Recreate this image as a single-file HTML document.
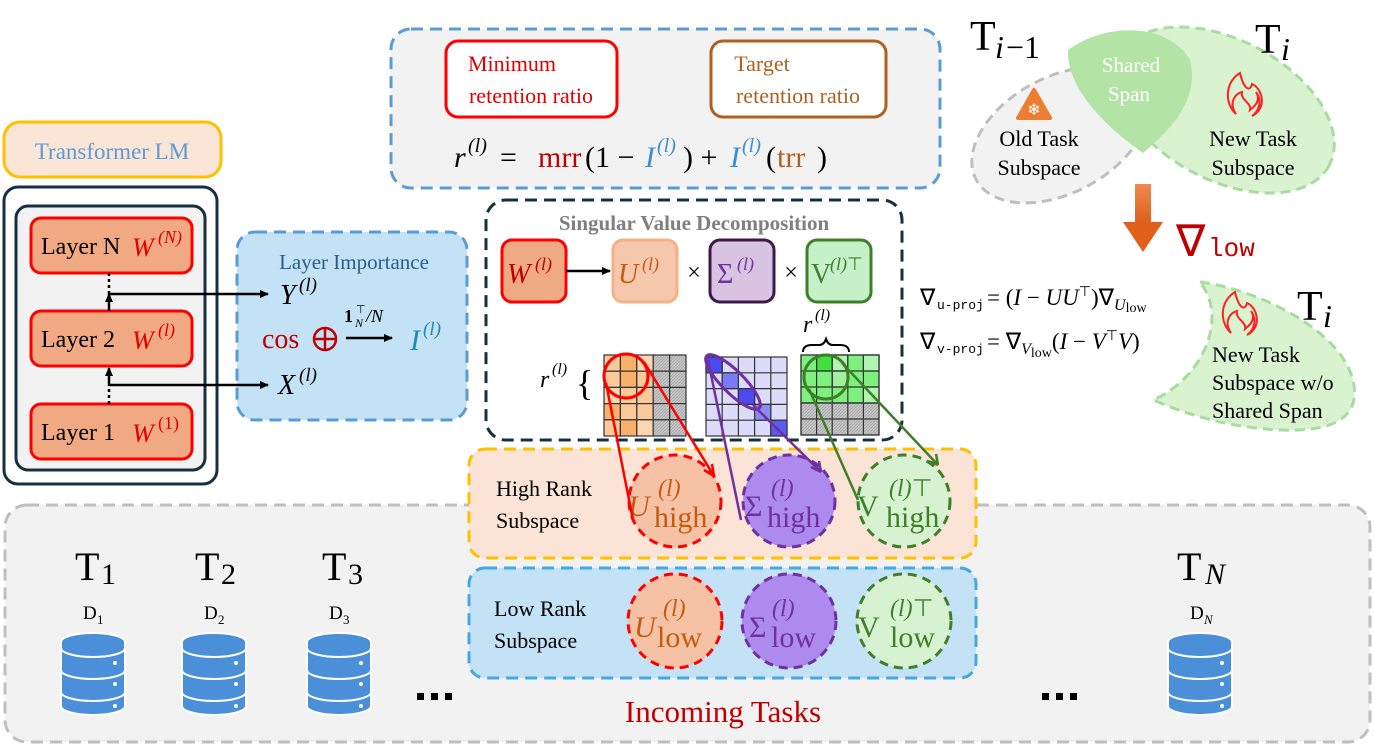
<!DOCTYPE html>
<html><head><meta charset="utf-8"><style>
html,body{margin:0;padding:0;background:#fff;}
svg{display:block;}
text,tspan{font-family:"Liberation Serif",serif;}
.m{font-style:italic;}
.mono{font-family:"Liberation Mono",monospace;}
</style></head><body>
<svg width="1374" height="754" viewBox="0 0 1374 754" xmlns="http://www.w3.org/2000/svg">
<defs>
<marker id="ah" markerWidth="10" markerHeight="10" refX="8" refY="5" orient="auto" markerUnits="userSpaceOnUse"><path d="M0,1 L9,5 L0,9 z" fill="#000"/></marker>
<pattern id="hatch" width="3" height="3" patternUnits="userSpaceOnUse"><rect width="3" height="3" fill="#c8c8c8"/><path d="M0,3 L3,0" stroke="#a8a8a8" stroke-width="1"/></pattern>
<linearGradient id="og" x1="0" y1="0" x2="0" y2="1"><stop offset="0" stop-color="#ee8a50"/><stop offset="1" stop-color="#e0601a"/></linearGradient>
</defs>

<!-- Incoming tasks box -->
<rect x="5" y="505" width="1365" height="237" rx="22" fill="#f2f2f2" stroke="#bfbfbf" stroke-width="3" stroke-dasharray="12,7"/>

<!-- Transformer LM -->
<rect x="4" y="122" width="217" height="55" rx="16" fill="#fbe5d6" stroke="#ffc000" stroke-width="3"/>
<text x="112" y="159" font-size="23" fill="#5b9bd5" text-anchor="middle">Transformer LM</text>

<rect x="4" y="187" width="213" height="297" rx="14" fill="#fff" stroke="#17303f" stroke-width="3"/>
<rect x="16" y="206" width="189" height="264" rx="12" fill="#f2f2f2" stroke="#17303f" stroke-width="3"/>
<rect x="31" y="218" width="161" height="55" rx="10" fill="#f0a982" stroke="#ff0000" stroke-width="3"/>
<rect x="31" y="311" width="161" height="55" rx="10" fill="#f0a982" stroke="#ff0000" stroke-width="3"/>
<rect x="31" y="404" width="161" height="55" rx="10" fill="#f0a982" stroke="#ff0000" stroke-width="3"/>
<text x="41" y="254" font-size="24" fill="#000">Layer N</text><text x="132" y="256" font-size="26" class="m" fill="#e00000">W</text><text x="158" y="243" font-size="18" class="m" fill="#e00000">(N)</text>
<text x="41" y="347" font-size="24" fill="#000">Layer 2</text><text x="132" y="349" font-size="26" class="m" fill="#e00000">W</text><text x="158" y="336" font-size="18" class="m" fill="#e00000">(l)</text>
<text x="41" y="440" font-size="24" fill="#000">Layer 1</text><text x="132" y="442" font-size="26" class="m" fill="#e00000">W</text><text x="158" y="429" font-size="18" fill="#e00000">(1)</text>

<!-- Layer importance -->
<rect x="237" y="232" width="230" height="188" rx="18" fill="#c3e2f5" stroke="#5b9bd5" stroke-width="3" stroke-dasharray="12,7"/>
<text x="354" y="269" font-size="21" fill="#2e5c8a" text-anchor="middle">Layer Importance</text>
<line x1="109" y1="273" x2="109" y2="297" stroke="#000" stroke-width="2.5" stroke-dasharray="3,3"/>
<line x1="109" y1="311" x2="109" y2="294" stroke="#000" stroke-width="2.5" marker-end="url(#ah)"/>
<line x1="109" y1="404" x2="109" y2="385" stroke="#000" stroke-width="2.5" stroke-dasharray="3,3"/>
<line x1="109" y1="385" x2="109" y2="368" stroke="#000" stroke-width="2.5" marker-end="url(#ah)"/>
<polyline points="109,294 268,294" fill="none" stroke="#000" stroke-width="2.5" marker-end="url(#ah)"/>
<polyline points="109,385 268,385" fill="none" stroke="#000" stroke-width="2.5" marker-end="url(#ah)"/>
<text x="280" y="304" font-size="28" class="m">Y</text><text x="299" y="291" font-size="19" class="m">(l)</text>
<text x="262" y="348" font-size="28" fill="#c00000">cos</text>
<circle cx="325" cy="339" r="11" fill="none" stroke="#c00000" stroke-width="2.5"/><line x1="314" y1="339" x2="336" y2="339" stroke="#c00000" stroke-width="2.5"/><line x1="325" y1="328" x2="325" y2="350" stroke="#c00000" stroke-width="2.5"/>
<text x="344" y="322" font-size="18" font-weight="bold">1</text><text x="355" y="327" font-size="12" class="m">N</text><text x="356" y="313" font-size="11">⊤</text><text x="366" y="322" font-size="18" class="m">/N</text>
<line x1="346" y1="338" x2="392" y2="338" stroke="#000" stroke-width="2.5" marker-end="url(#ah)"/>
<text x="410" y="350" font-size="30" class="m" fill="#1f8bb5">I</text><text x="423" y="335" font-size="19" class="m" fill="#1f8bb5">(l)</text>
<text x="278" y="394" font-size="28" class="m">X</text><text x="299" y="381" font-size="19" class="m">(l)</text>

<!-- Top retention box -->
<rect x="391" y="29" width="549" height="159" rx="20" fill="#f2f2f2" stroke="#5b9bd5" stroke-width="3" stroke-dasharray="12,7"/>
<rect x="446" y="41" width="171" height="76" rx="12" fill="#fff" stroke="#ff0000" stroke-width="3"/>
<text x="512" y="71" font-size="22" fill="#e00000" text-anchor="middle">Minimum</text>
<text x="531" y="103" font-size="22" fill="#e00000" text-anchor="middle">retention ratio</text>
<rect x="711" y="41" width="175" height="76" rx="12" fill="#fff" stroke="#b0601e" stroke-width="3"/>
<text x="762" y="71" font-size="22" fill="#b0601e" text-anchor="middle">Target</text>
<text x="798" y="103" font-size="22" fill="#b0601e" text-anchor="middle">retention ratio</text>
<text x="454" y="167" font-size="30" class="m">r</text><text x="468" y="152" font-size="20" class="m">(l)</text>
<text x="500" y="167" font-size="30">=</text>
<text x="538" y="167" font-size="30" fill="#c00000">mrr</text>
<text x="585" y="167" font-size="30">(1 −</text>
<text x="645" y="167" font-size="30" class="m" fill="#3a8fd0">I</text><text x="657" y="152" font-size="20" class="m" fill="#3a8fd0">(l)</text>
<text x="683" y="167" font-size="30">) +</text>
<text x="730" y="167" font-size="30" class="m" fill="#3a8fd0">I</text><text x="742" y="152" font-size="20" class="m" fill="#3a8fd0">(l)</text>
<text x="766" y="167" font-size="30">(</text><text x="777" y="167" font-size="30" fill="#b0601e">trr</text><text x="817" y="167" font-size="30">)</text>

<!-- SVD box -->
<rect x="486" y="200" width="416" height="240" rx="20" fill="#fff" stroke="#17303f" stroke-width="3" stroke-dasharray="12,7"/>
<text x="694" y="230" font-size="21" font-weight="bold" fill="#7f7f7f" text-anchor="middle">Singular Value Decomposition</text>
<rect x="502" y="240" width="64" height="62" rx="10" fill="#efa983" stroke="#ff0000" stroke-width="3"/>
<text x="507" y="283" font-size="28" class="m" fill="#c00000">W</text><text x="535" y="270" font-size="18" class="m" fill="#c00000">(l)</text>
<line x1="566" y1="271" x2="610" y2="271" stroke="#000" stroke-width="2.5" marker-end="url(#ah)"/>
<rect x="613" y="240" width="64" height="62" rx="10" fill="#f5c8ad" stroke="#f4b183" stroke-width="3"/>
<text x="618" y="283" font-size="28" class="m" fill="#c55a11">U</text><text x="642" y="270" font-size="18" class="m" fill="#c55a11">(l)</text>
<text x="694" y="280" font-size="24" text-anchor="middle">×</text>
<rect x="710" y="240" width="64" height="62" rx="10" fill="#d9c3e2" stroke="#3b1a4a" stroke-width="3"/>
<text x="717" y="283" font-size="28" fill="#7030a0">Σ</text><text x="737" y="270" font-size="18" class="m" fill="#7030a0">(l)</text>
<text x="791" y="280" font-size="24" text-anchor="middle">×</text>
<rect x="807" y="240" width="64" height="62" rx="10" fill="#c5f0c8" stroke="#3f7f2a" stroke-width="3"/>
<text x="811" y="283" font-size="28" fill="#3f7f2a">V</text><text x="830" y="270" font-size="18" fill="#3f7f2a"><tspan class="m">(l)</tspan>⊤</text>

<text x="540" y="387" font-size="24" class="m">r</text><text x="552" y="374" font-size="16" class="m">(l)</text>
<text x="576" y="395" font-size="36">{</text>
<text x="803" y="332" font-size="24" class="m">r</text><text x="815" y="320" font-size="16" class="m">(l)</text>
<path d="M803,352 q0,-7 9,-7 h7 q5,0 7,-6 q2,6 7,6 h7 q9,0 9,7" fill="none" stroke="#000" stroke-width="2"/>

<g stroke="#333" stroke-width="1.2">
<rect x="604" y="355" width="16.4" height="16.2" fill="#fbc99a"/><rect x="620.4" y="355" width="16.4" height="16.2" fill="#f9b06a"/><rect x="636.8" y="355" width="16.4" height="16.2" fill="#fcd7b0"/><rect x="653.2" y="355" width="16.4" height="16.2" fill="url(#hatch)"/><rect x="669.6" y="355" width="16.4" height="16.2" fill="url(#hatch)"/>
<rect x="604" y="371.2" width="16.4" height="16.2" fill="#fbc99a"/><rect x="620.4" y="371.2" width="16.4" height="16.2" fill="#f9b06a"/><rect x="636.8" y="371.2" width="16.4" height="16.2" fill="#fbc99a"/><rect x="653.2" y="371.2" width="16.4" height="16.2" fill="url(#hatch)"/><rect x="669.6" y="371.2" width="16.4" height="16.2" fill="url(#hatch)"/>
<rect x="604" y="387.4" width="16.4" height="16.2" fill="#fcd7b0"/><rect x="620.4" y="387.4" width="16.4" height="16.2" fill="#fbc99a"/><rect x="636.8" y="387.4" width="16.4" height="16.2" fill="#fbc99a"/><rect x="653.2" y="387.4" width="16.4" height="16.2" fill="url(#hatch)"/><rect x="669.6" y="387.4" width="16.4" height="16.2" fill="url(#hatch)"/>
<rect x="604" y="403.6" width="16.4" height="16.2" fill="#f9b06a"/><rect x="620.4" y="403.6" width="16.4" height="16.2" fill="#fbc99a"/><rect x="636.8" y="403.6" width="16.4" height="16.2" fill="#fbc99a"/><rect x="653.2" y="403.6" width="16.4" height="16.2" fill="url(#hatch)"/><rect x="669.6" y="403.6" width="16.4" height="16.2" fill="url(#hatch)"/>
<rect x="604" y="419.8" width="16.4" height="16.2" fill="#fbc99a"/><rect x="620.4" y="419.8" width="16.4" height="16.2" fill="#f9b06a"/><rect x="636.8" y="419.8" width="16.4" height="16.2" fill="#fcd7b0"/><rect x="653.2" y="419.8" width="16.4" height="16.2" fill="url(#hatch)"/><rect x="669.6" y="419.8" width="16.4" height="16.2" fill="url(#hatch)"/>
<rect x="706" y="357" width="81" height="79" fill="#dcdcfa"/>
<path d="M722.2,357 V436 M738.4,357 V436 M754.6,357 V436 M770.8,357 V436 M706,372.8 H787 M706,388.6 H787 M706,404.4 H787 M706,420.2 H787" fill="none"/>
<rect x="706" y="357" width="16.2" height="15.8" fill="#4a4af0"/><rect x="722.2" y="372.8" width="16.2" height="15.8" fill="#7a7af5"/><rect x="738.4" y="388.6" width="16.2" height="15.8" fill="#4a4af0"/><rect x="754.6" y="404.4" width="16.2" height="15.8" fill="#8a8af5"/><rect x="770.8" y="420.2" width="16.2" height="15.8" fill="#5a5af2"/>
<rect x="801" y="355" width="78" height="48" fill="#7df07d"/>
<rect x="801" y="403" width="78" height="32" fill="url(#hatch)"/>
<rect x="816.6" y="355" width="15.6" height="16" fill="#40e040"/><rect x="832.2" y="355" width="15.6" height="16" fill="#b0f5b0"/><rect x="863.4" y="355" width="15.6" height="16" fill="#b0f5b0"/><rect x="832.2" y="371" width="15.6" height="16" fill="#a0f0a0"/><rect x="863.4" y="387" width="15.6" height="16" fill="#b0f5b0"/>
<path d="M816.6,355 V435 M832.2,355 V435 M847.8,355 V435 M863.4,355 V435 M801,371 H879 M801,387 H879 M801,403 H879 M801,419 H879" fill="none"/>
<rect x="801" y="355" width="78" height="80" fill="none"/>
</g>

<!-- High rank box -->
<rect x="469" y="449" width="507" height="109" rx="16" fill="#fbe3d5" stroke="#ffc000" stroke-width="3" stroke-dasharray="12,7"/>
<text x="496" y="496" font-size="22">High Rank</text><text x="496" y="528" font-size="22">Subspace</text>
<rect x="469" y="568" width="507" height="110" rx="16" fill="#c3e2f5" stroke="#45a8e0" stroke-width="3" stroke-dasharray="12,7"/>
<text x="494" y="616" font-size="22">Low Rank</text><text x="494" y="648" font-size="22">Subspace</text>

<circle cx="675" cy="501" r="46" fill="#f5c2a6" stroke="#ff0000" stroke-width="3" stroke-dasharray="9,6"/>
<circle cx="789" cy="501" r="46" fill="#ad8aee" stroke="#7030a0" stroke-width="3" stroke-dasharray="9,6"/>
<circle cx="904" cy="501" r="46" fill="#d7f2d0" stroke="#3f7f2a" stroke-width="3" stroke-dasharray="9,6"/>
<circle cx="675" cy="621" r="47" fill="#f5c2a6" stroke="#ff0000" stroke-width="3" stroke-dasharray="9,6"/>
<circle cx="789" cy="621" r="47" fill="#ad8aee" stroke="#7030a0" stroke-width="3" stroke-dasharray="9,6"/>
<circle cx="904" cy="621" r="47" fill="#d7f2d0" stroke="#3f7f2a" stroke-width="3" stroke-dasharray="9,6"/>
<g font-size="30">
<text x="628" y="516" class="m" fill="#c55a11">U</text><text x="658" y="496" font-size="24" class="m" fill="#c55a11">(l)</text><text x="654" y="527" fill="#c55a11">high</text>
<text x="745" y="516" fill="#7030a0">Σ</text><text x="771" y="496" font-size="24" class="m" fill="#7030a0">(l)</text><text x="767" y="527" fill="#7030a0">high</text>
<text x="857" y="516" fill="#3f7f2a">V</text><text x="889" y="496" font-size="24" fill="#3f7f2a"><tspan class="m">(l)</tspan>⊤</text><text x="886" y="527" fill="#3f7f2a">high</text>
<text x="634" y="637" class="m" fill="#c55a11">U</text><text x="663" y="616" font-size="24" class="m" fill="#c55a11">(l)</text><text x="657" y="647" fill="#c55a11">low</text>
<text x="749" y="637" fill="#7030a0">Σ</text><text x="772" y="616" font-size="24" class="m" fill="#7030a0">(l)</text><text x="771" y="647" fill="#7030a0">low</text>
<text x="858" y="637" fill="#3f7f2a">V</text><text x="890" y="616" font-size="24" fill="#3f7f2a"><tspan class="m">(l)</tspan>⊤</text><text x="890" y="647" fill="#3f7f2a">low</text>
</g>

<!-- zoom lines -->
<circle cx="626" cy="376" r="22" fill="none" stroke="#ff0000" stroke-width="3"/>
<path d="M606,383 L633,520 M644,362 L714,476" fill="none" stroke="#ff0000" stroke-width="2.5"/>
<path d="M714,476 l-2,-12 M714,476 l-10,-6" stroke="#ff0000" stroke-width="2.5"/>
<ellipse cx="733" cy="382" rx="37" ry="11" transform="rotate(45 733 382)" fill="none" stroke="#7030a0" stroke-width="3"/>
<path d="M708,360 L741,520 M753,405 L821,472" fill="none" stroke="#7030a0" stroke-width="2.5"/>
<path d="M821,472 l-2,-11 M821,472 l-10,-5" stroke="#7030a0" stroke-width="2.5"/>
<circle cx="826" cy="377" r="22" fill="none" stroke="#3f7f2a" stroke-width="3"/>
<path d="M809,389 L858,500 M842,363 L938,465" fill="none" stroke="#3f7f2a" stroke-width="2.5"/>
<path d="M938,465 l-2,-11 M938,465 l-10,-4" stroke="#3f7f2a" stroke-width="2.5"/>

<text x="723" y="722" font-size="31" fill="#c00000" text-anchor="middle">Incoming Tasks</text>

<g font-size="40">
<text x="75" y="580">T</text><text x="101" y="584" font-size="30">1</text>
<text x="195" y="580">T</text><text x="221" y="584" font-size="30">2</text>
<text x="322" y="580">T</text><text x="348" y="584" font-size="30">3</text>
<text x="1177" y="580">T</text><text x="1205" y="584" font-size="30" class="m">N</text>
</g>
<g font-size="19">
<text x="83" y="619">D</text><text x="97" y="624" font-size="13">1</text>
<text x="204" y="619">D</text><text x="218" y="624" font-size="13">2</text>
<text x="329" y="619">D</text><text x="343" y="624" font-size="13">3</text>
<text x="1190" y="619">D</text><text x="1204" y="624" font-size="13" class="m">N</text>
</g>
<g fill="#4a8fd8" stroke="#fff" stroke-width="2">
<g transform="translate(93,0)"><path d="M-32,642 a32,9 0 0 1 64,0 v64 a32,9 0 0 1 -64,0 z"/><path d="M-32,648 a32,9 0 0 0 64,0 M-32,670 a32,9 0 0 0 64,0 M-32,692 a32,9 0 0 0 64,0" fill="none"/><circle cx="22" cy="663" r="2" fill="#fff" stroke="none"/><circle cx="22" cy="684" r="2" fill="#fff" stroke="none"/><circle cx="22" cy="706" r="2" fill="#fff" stroke="none"/></g>
<g transform="translate(214,0)"><path d="M-32,642 a32,9 0 0 1 64,0 v64 a32,9 0 0 1 -64,0 z"/><path d="M-32,648 a32,9 0 0 0 64,0 M-32,670 a32,9 0 0 0 64,0 M-32,692 a32,9 0 0 0 64,0" fill="none"/><circle cx="22" cy="663" r="2" fill="#fff" stroke="none"/><circle cx="22" cy="684" r="2" fill="#fff" stroke="none"/><circle cx="22" cy="706" r="2" fill="#fff" stroke="none"/></g>
<g transform="translate(339,0)"><path d="M-32,642 a32,9 0 0 1 64,0 v64 a32,9 0 0 1 -64,0 z"/><path d="M-32,648 a32,9 0 0 0 64,0 M-32,670 a32,9 0 0 0 64,0 M-32,692 a32,9 0 0 0 64,0" fill="none"/><circle cx="22" cy="663" r="2" fill="#fff" stroke="none"/><circle cx="22" cy="684" r="2" fill="#fff" stroke="none"/><circle cx="22" cy="706" r="2" fill="#fff" stroke="none"/></g>
<g transform="translate(1200,0)"><path d="M-32,642 a32,9 0 0 1 64,0 v64 a32,9 0 0 1 -64,0 z"/><path d="M-32,648 a32,9 0 0 0 64,0 M-32,670 a32,9 0 0 0 64,0 M-32,692 a32,9 0 0 0 64,0" fill="none"/><circle cx="22" cy="663" r="2" fill="#fff" stroke="none"/><circle cx="22" cy="684" r="2" fill="#fff" stroke="none"/><circle cx="22" cy="706" r="2" fill="#fff" stroke="none"/></g>
</g>
<g fill="#000"><rect x="417" y="693" width="7" height="7"/><rect x="431" y="693" width="7" height="7"/><rect x="445" y="693" width="7" height="7"/>
<rect x="1042" y="693" width="7" height="7"/><rect x="1056" y="693" width="7" height="7"/><rect x="1070" y="693" width="7" height="7"/></g>

<!-- right top venn -->
<ellipse cx="1060" cy="135" rx="95" ry="58" transform="rotate(-28 1060 135)" fill="#f2f2f2" stroke="#bfbfbf" stroke-width="3" stroke-dasharray="10,6"/>
<ellipse cx="1225" cy="110" rx="118" ry="70" transform="rotate(28 1225 110)" fill="#d9f2d0" stroke="#a8dca0" stroke-width="3" stroke-dasharray="10,6"/>
<path d="M1068,50 C1110,20 1170,25 1190,60 C1200,100 1170,130 1143,153 C1110,130 1066,90 1068,50 z" fill="#b3e3a5"/>
<text x="1131" y="72" font-size="21" fill="#fff" text-anchor="middle">Shared</text>
<text x="1129" y="101" font-size="21" fill="#fff" text-anchor="middle">Span</text>
<polygon points="1018,118 1034,90 1050,118" fill="#ed7d31" stroke="#ed7d31" stroke-width="4" stroke-linejoin="round"/>
<text x="1034" y="115" font-size="16" fill="#fff" text-anchor="middle">❄</text>
<text x="1039" y="146" font-size="22" text-anchor="middle">Old Task</text>
<text x="1039" y="175" font-size="22" text-anchor="middle">Subspace</text>
<text x="1253" y="146" font-size="22" text-anchor="middle">New Task</text>
<text x="1253" y="175" font-size="22" text-anchor="middle">Subspace</text>
<path d="M1240,73 C1225,82 1224,103 1236,114 C1228,102 1236,93 1242,92 C1240,100 1252,103 1250,110 C1258,104 1260,98 1256,92 C1262,100 1260,110 1252,116 C1268,108 1262,88 1252,84 C1250,92 1244,90 1240,73 z" fill="none" stroke="#ff2020" stroke-width="2"/>
<text x="970" y="50" font-size="42">T</text><text x="995" y="58" font-size="32" class="m">i</text><text x="1006" y="58" font-size="32">−1</text>
<text x="1255" y="53" font-size="42">T</text><text x="1281" y="60" font-size="32" class="m">i</text>

<rect x="1135" y="184" width="16" height="38" fill="url(#og)"/>
<polygon points="1123,222 1163,222 1143,252" fill="#e0601a"/>
<text x="1176" y="256" font-size="44" fill="#c00000">∇</text>
<text x="1208" y="256" font-size="26" fill="#c00000" class="mono">low</text>

<text x="920" y="305" font-size="23">∇</text><text x="937" y="309" font-size="13" class="mono">u-proj</text><text x="987" y="305" font-size="23">= (<tspan class="m">I</tspan> − <tspan class="m">UU</tspan><tspan font-size="14" dy="-9">⊤</tspan><tspan dy="9">)∇</tspan><tspan class="m" font-size="16" dy="5">U</tspan><tspan font-size="14" dy="2">low</tspan></text>
<text x="920" y="349" font-size="23">∇</text><text x="937" y="353" font-size="13" class="mono">v-proj</text><text x="987" y="349" font-size="23">= ∇<tspan class="m" font-size="16" dy="5">V</tspan><tspan font-size="14" dy="3">low</tspan><tspan dy="-8">(</tspan><tspan class="m">I</tspan> − <tspan class="m">V</tspan><tspan font-size="14" dy="-9">⊤</tspan><tspan class="m" dy="9">V</tspan>)</text>

<path d="M1200,282 C1260,290 1340,330 1353,380 C1362,420 1330,432 1280,430 C1240,428 1200,420 1153,400 C1200,380 1230,320 1200,282 z" fill="#d9f2d0" stroke="#a8dca0" stroke-width="3" stroke-dasharray="10,6"/>
<text x="1297" y="320" font-size="42">T</text><text x="1323" y="327" font-size="32" class="m">i</text>
<path d="M1235,292 C1220,301 1219,322 1231,333 C1223,321 1231,312 1237,311 C1235,319 1247,322 1245,329 C1253,323 1255,317 1251,311 C1257,319 1255,329 1247,335 C1263,327 1257,307 1247,303 C1245,311 1239,309 1235,292 z" fill="none" stroke="#ff2020" stroke-width="2"/>
<text x="1212" y="362" font-size="22">New Task</text>
<text x="1212" y="390" font-size="22">Subspace w/o</text>
<text x="1212" y="418" font-size="22">Shared Span</text>
</svg>
</body></html>
